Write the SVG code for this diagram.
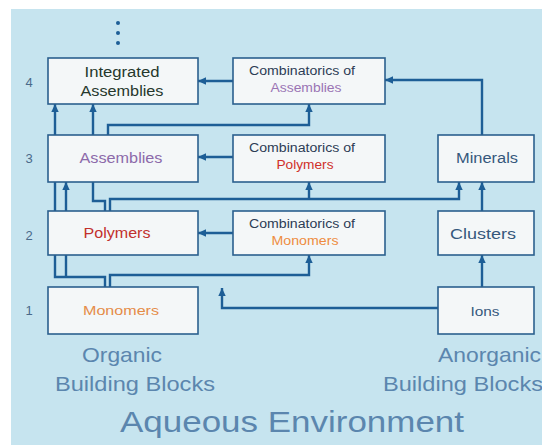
<svg xmlns="http://www.w3.org/2000/svg" width="542" height="445" viewBox="0 0 542 445">
  <style>
    .box { fill: #f4f7f8; stroke: #2b5f8e; stroke-width: 1.6; }
    .wire { fill: none; stroke: #1d5e96; stroke-width: 2.4; }
    .lbl { font-family: "Liberation Sans", Arial, sans-serif; text-anchor: middle; }
    .num { font-family: "Liberation Sans", Arial, sans-serif; font-size: 13px; fill: #4a6a8a; text-anchor: middle; }
    .big { font-family: "Liberation Sans", Arial, sans-serif; fill: #5b86ae; }
    .dark { fill: #2c3c55; }
    .inorg { fill: #35587c; }
  </style>
  <defs>
    <marker id="head" markerUnits="userSpaceOnUse" markerWidth="9" markerHeight="9" refX="8" refY="4.5" orient="auto">
      <path d="M0,0.8 L8,4.5 L0,8.2 z" fill="#1d5e96"/>
    </marker>
  </defs>

  <!-- page background -->
  <rect x="0" y="0" width="542" height="445" fill="#ffffff"/>
  <rect x="11" y="9" width="531" height="436" fill="#c6e4ef"/>

  <!-- continuation dots -->
  <g fill="#1d5e96">
    <circle cx="118" cy="23" r="2"/>
    <circle cx="118" cy="33" r="2"/>
    <circle cx="118" cy="43" r="2"/>
  </g>

  <!-- level numbers -->
  <text class="num" x="29" y="87">4</text>
  <text class="num" x="29" y="163">3</text>
  <text class="num" x="29" y="240">2</text>
  <text class="num" x="29" y="315">1</text>

  <!-- connectors -->
  <g id="connectors">
    <path class="wire" d="M105,287 V277 H55 V104" marker-end="url(#head)"/>
    <path class="wire" d="M66,277 V182" marker-end="url(#head)"/>
    <path class="wire" d="M105,211 V201 H93 V104" marker-end="url(#head)"/>
    <path class="wire" d="M108,135 V125 H309 V104" marker-end="url(#head)"/>
    <path class="wire" d="M110,211 V199 H459 V182" marker-end="url(#head)"/>
    <path class="wire" d="M309,199 V182" marker-end="url(#head)"/>
    <path class="wire" d="M110,287 V275 H309 V255" marker-end="url(#head)"/>
    <path class="wire" d="M233,81 H198" marker-end="url(#head)"/>
    <path class="wire" d="M233,157 H198" marker-end="url(#head)"/>
    <path class="wire" d="M233,233 H198" marker-end="url(#head)"/>
    <path class="wire" d="M438,308 H222 V288" marker-end="url(#head)"/>
    <path class="wire" d="M482,287 V255" marker-end="url(#head)"/>
    <path class="wire" d="M482,211 V182" marker-end="url(#head)"/>
    <path class="wire" d="M482,135 V80 H385" marker-end="url(#head)"/>
  </g>

  <!-- organic column -->
  <g id="integrated-assemblies">
    <rect class="box" x="48" y="58" width="150" height="46"/>
    <text class="lbl" x="122" y="77" font-size="14" fill="#26382c" textLength="75" lengthAdjust="spacingAndGlyphs">Integrated</text>
    <text class="lbl" x="122" y="96" font-size="14" fill="#26382c" textLength="83" lengthAdjust="spacingAndGlyphs">Assemblies</text>
  </g>
  <g id="assemblies">
    <rect class="box" x="48" y="135" width="150" height="47"/>
    <text class="lbl" x="121" y="163" font-size="14" fill="#8c6aaa" textLength="83" lengthAdjust="spacingAndGlyphs">Assemblies</text>
  </g>
  <g id="polymers">
    <rect class="box" x="48" y="211" width="150" height="44"/>
    <text class="lbl" x="117" y="238" font-size="14" fill="#c2302c" textLength="67" lengthAdjust="spacingAndGlyphs">Polymers</text>
  </g>
  <g id="monomers">
    <rect class="box" x="48" y="287" width="150" height="47"/>
    <text class="lbl" x="121" y="315" font-size="13.5" fill="#e58c48" textLength="76" lengthAdjust="spacingAndGlyphs">Monomers</text>
  </g>

  <!-- combinatorics column -->
  <g id="combinatorics-of-assemblies">
    <rect class="box" x="233" y="58" width="152" height="46"/>
    <text class="lbl dark" x="302" y="75" font-size="12" textLength="106" lengthAdjust="spacingAndGlyphs">Combinatorics of</text>
    <text class="lbl" x="306" y="92" font-size="12" fill="#9a74b4" textLength="71" lengthAdjust="spacingAndGlyphs">Assemblies</text>
  </g>
  <g id="combinatorics-of-polymers">
    <rect class="box" x="233" y="135" width="152" height="47"/>
    <text class="lbl dark" x="302" y="152" font-size="12" textLength="106" lengthAdjust="spacingAndGlyphs">Combinatorics of</text>
    <text class="lbl" x="305" y="169" font-size="12" fill="#d0302a" textLength="57" lengthAdjust="spacingAndGlyphs">Polymers</text>
  </g>
  <g id="combinatorics-of-monomers">
    <rect class="box" x="233" y="211" width="152" height="44"/>
    <text class="lbl dark" x="302" y="228" font-size="12" textLength="106" lengthAdjust="spacingAndGlyphs">Combinatorics of</text>
    <text class="lbl" x="305" y="245" font-size="12" fill="#ee8c40" textLength="67" lengthAdjust="spacingAndGlyphs">Monomers</text>
  </g>

  <!-- inorganic column -->
  <g id="minerals">
    <rect class="box" x="438" y="135" width="96" height="47"/>
    <text class="lbl inorg" x="487" y="163" font-size="14" textLength="62" lengthAdjust="spacingAndGlyphs">Minerals</text>
  </g>
  <g id="clusters">
    <rect class="box" x="438" y="211" width="96" height="44"/>
    <text class="lbl inorg" x="483" y="239" font-size="14" textLength="66" lengthAdjust="spacingAndGlyphs">Clusters</text>
  </g>
  <g id="ions">
    <rect class="box" x="438" y="287" width="96" height="47"/>
    <text class="lbl inorg" x="485" y="316" font-size="13" textLength="29" lengthAdjust="spacingAndGlyphs">Ions</text>
  </g>

  <!-- column captions -->
  <text class="big" x="82" y="362" font-size="21" textLength="80" lengthAdjust="spacingAndGlyphs">Organic</text>
  <text class="big" x="55" y="391" font-size="21" textLength="160" lengthAdjust="spacingAndGlyphs">Building Blocks</text>
  <text class="big" x="438" y="362" font-size="21" textLength="103" lengthAdjust="spacingAndGlyphs">Anorganic</text>
  <text class="big" x="383" y="391" font-size="21" textLength="160" lengthAdjust="spacingAndGlyphs">Building Blocks</text>
  <text class="big" x="120" y="432" font-size="29" textLength="344" lengthAdjust="spacingAndGlyphs">Aqueous Environment</text>
</svg>
